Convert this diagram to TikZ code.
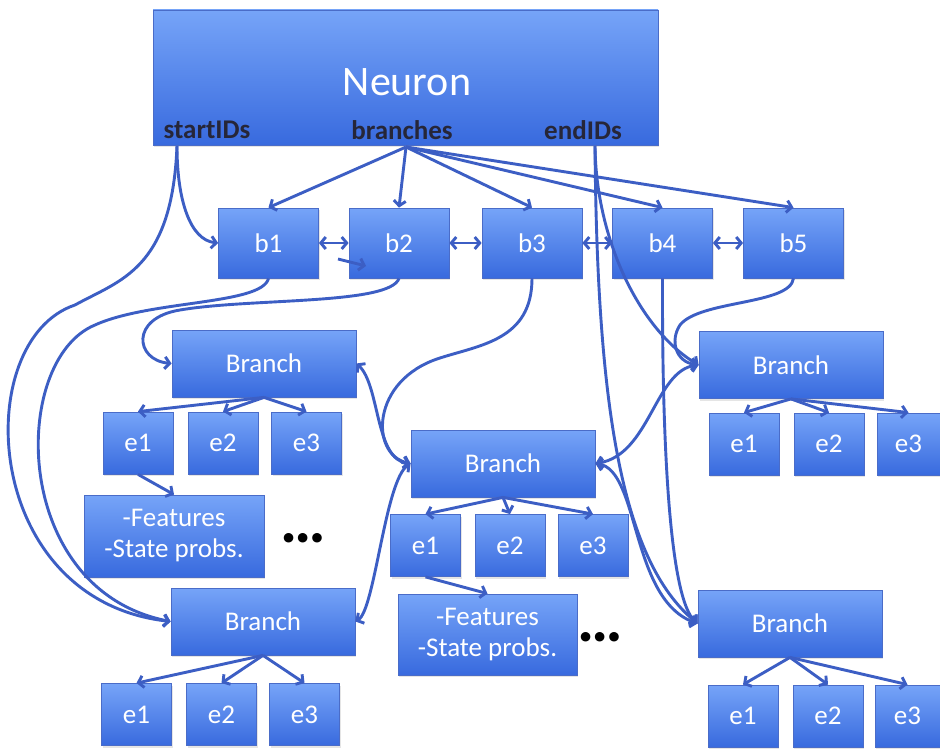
\documentclass[tikz,border=0pt]{standalone}
\usepackage{fontspec}
\setmainfont{Carlito}
\usetikzlibrary{arrows.meta,shadows}
\definecolor{boxtop}{RGB}{118,164,248}
\definecolor{boxbot}{RGB}{56,106,222}
\definecolor{boxline}{RGB}{74,108,200}
\definecolor{wireblue}{RGB}{60,94,196}
\definecolor{fieldtext}{RGB}{38,38,56}
\tikzset{%
  box/.style = {shape=rectangle, draw=boxline, line width=0.8pt,
    top color=boxtop, bottom color=boxbot, text=white,
    font=\fontsize{27}{31}\selectfont, align=center, inner sep=0pt,
    drop shadow={opacity=0.2, shadow xshift=1pt, shadow yshift=-2pt}},
  bbox/.style = {box, minimum width=100pt, minimum height=70pt},
  brbox/.style = {box, minimum width=184pt, minimum height=67pt},
  ebox/.style = {box, minimum width=70pt, minimum height=62pt},
  featbox/.style = {box, minimum width=180pt, minimum height=82pt},
  field/.style = {text=fieldtext, inner sep=0pt,
    font=\fontsize{27}{31}\selectfont\bfseries},
  more/.style = {text=black, inner sep=0pt,
    font=\fontsize{64}{64}\selectfont\bfseries},
  wire/.style = {draw=wireblue, line width=2.9pt,
    -{Straight Barb[length=5pt,width=12pt]}},
  wire2/.style = {wire, {Straight Barb[length=5pt,width=12pt]}-{Straight Barb[length=5pt,width=12pt]}}
}
\begin{document}
\begin{tikzpicture}[x=1pt, y=-1pt]
  \useasboundingbox (0,0) rectangle (940,749);
  \fill[white] (0,0) rectangle (940,749);

  % neuron and its fields
  \node[box, minimum width=505pt, minimum height=135pt] (neuron) at (405.5,77.5) {};
  \node[text=white, inner sep=0pt, font=\fontsize{42}{46}\selectfont] (neuronName) at (407,82.5) {Neuron};
  \node[field] (startIDs) at (207,130) {startIDs};
  \node[field] (branches) at (402,130) {branches};
  \node[field] (endIDs) at (583,130) {endIDs};
  \coordinate (sOut) at (177,146);
  \coordinate (bOut) at (406,147);
  \coordinate (eOut) at (595,146);

  % branch list
  \node[bbox] (b1) at (268.5,243) {b1};
  \node[bbox] (b2) at (399,243) {b2};
  \node[bbox] (b3) at (532,243) {b3};
  \node[bbox] (b4) at (662.5,243) {b4};
  \node[bbox] (b5) at (793.5,243) {b5};

  % branches
  \node[brbox] (brA) at (264,363.5) {Branch};
  \node[brbox] (brB) at (503,463.5) {Branch};
  \node[brbox] (brC) at (263,621.5) {Branch};
  \node[brbox] (brD) at (791,365) {Branch};
  \node[brbox] (brE) at (790,623.5) {Branch};

  % elements
  \node[ebox] (eA1) at (138,443) {e1};
  \node[ebox] (eA2) at (223,443) {e2};
  \node[ebox] (eA3) at (306.5,443) {e3};
  \node[ebox] (eB1) at (425.5,545.5) {e1};
  \node[ebox] (eB2) at (510,545.5) {e2};
  \node[ebox] (eB3) at (593,545.5) {e3};
  \node[ebox] (eC1) at (136.5,714.5) {e1};
  \node[ebox] (eC2) at (221.5,714.5) {e2};
  \node[ebox] (eC3) at (304.5,714.5) {e3};
  \node[ebox] (eD1) at (744,444) {e1};
  \node[ebox] (eD2) at (829,444) {e2};
  \node[ebox, minimum width=63pt] (eD3) at (908.5,444) {e3};
  \node[ebox] (eE1) at (743,716) {e1};
  \node[ebox] (eE2) at (828,716) {e2};
  \node[ebox, minimum width=65pt] (eE3) at (907.5,716) {e3};

  % element contents
  \node[featbox] (featA) at (174,536) {-Features\\-State probs.};
  \node[featbox, minimum width=179pt, minimum height=81pt] (featB) at (487.5,634.5) {-Features\\-State probs.};
  \node[more] (moreA) at (303,538) {…};
  \node[more] (moreB) at (600,637) {…};

  % neuron -> branch list
  \foreach \b in {b1,b2,b3,b4,b5}
    \draw[wire] (bOut) -- (\b.north);
  \draw[wire2] (b1.east) -- (b2.west);
  \draw[wire2] (b2.east) -- (b3.west);
  \draw[wire2] (b3.east) -- (b4.west);
  \draw[wire2] (b4.east) -- (b5.west);
  \coordinate (strayA) at (338,259);
  \coordinate (strayB) at (366,266);
  \draw[wire] (strayA) -- (strayB);

  % start ids
  \draw[wire] (sOut) .. controls (177,200) and (190,240) .. (b1.west);
  \draw[wire] (sOut) .. controls (172,270) and (120,280) .. (75,305)
    .. controls (-30,340) and (-20,600) .. (brC.west);

  % branch list -> branches
  \draw[wire] (b1.south) .. controls (262,305) and (150,300) .. (95,325)
    .. controls (10,360) and (10,590) .. (brC.west);
  \draw[wire] (b2.south) .. controls (390,305) and (250,298) .. (180,310)
    .. controls (130,318) and (135,360) .. (brA.west);
  \draw[wire] (b3.south) .. controls (532,340) and (480,345) .. (440,358)
    .. controls (370,380) and (370,455) .. (brB.west);
  \draw[wire] (b4.south) .. controls (662,450) and (670,600) .. (brE.west);
  \draw[wire] (b5.south) .. controls (790,305) and (700,300) .. (680,325)
    .. controls (670,340) and (675,362) .. (brD.west);

  % end ids
  \draw[wire] (eOut) .. controls (596,240) and (640,330) .. (brD.west);
  \draw[wire] (eOut) .. controls (597,400) and (620,560) .. (brE.west);

  % neighbour links
  \draw[wire2] (brA.east) .. controls (380,385) and (375,460) .. (brB.west);
  \draw[wire2] (brB.west) .. controls (385,480) and (375,610) .. (brC.east);
  \draw[wire2] (brD.west) .. controls (655,370) and (650,455) .. (brB.east);
  \draw[wire2] (brB.east) .. controls (640,470) and (630,600) .. (brE.west);

  % branches -> elements
  \foreach \r in {A,B,C,D,E}
    \foreach \i in {1,2,3}
      \draw[wire] (br\r.south) -- (e\r\i.north);
  \draw[wire] (eA1.south) -- (featA.north);
  \draw[wire] (eB1.south) -- (featB.north);
\end{tikzpicture}
\end{document}
